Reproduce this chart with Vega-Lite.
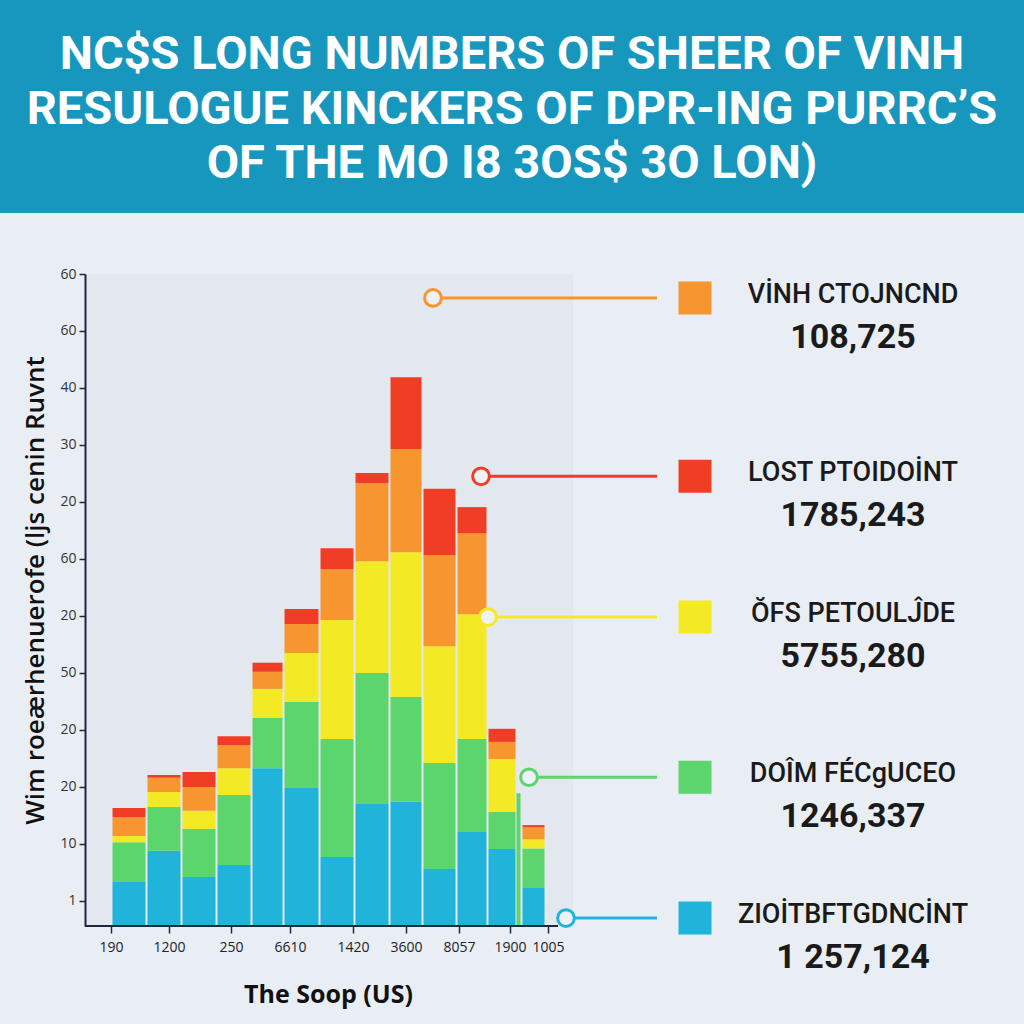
{
  "$schema": "https://vega.github.io/schema/vega-lite/v6.json",
  "autosize": {"type": "none"},
  "width": 939,
  "height": 652,
  "padding": {"left": 85, "top": 274, "right": 0, "bottom": 98},
  "background": "#e9eef5",
  "config": {"view": {"stroke": null}, "axis": {"grid": false}},
  "datasets": {
    "bars": [
      {"lo": 2.7, "hi": 6.0, "series": "ZIOİTBFTGDNCİNT", "layer": 1, "value": 7.7},
      {"lo": 2.7, "hi": 6.0, "series": "DOÎM FÉCgUCEO", "layer": 2, "value": 7.0},
      {"lo": 2.7, "hi": 6.0, "series": "ŎFS PETOULĴDE", "layer": 3, "value": 1.1},
      {"lo": 2.7, "hi": 6.0, "series": "VİNH CTOJNCND", "layer": 4, "value": 3.3},
      {"lo": 2.7, "hi": 6.0, "series": "LOST PTOIDOİNT", "layer": 5, "value": 1.6},
      {"lo": 6.2, "hi": 9.5, "series": "ZIOİTBFTGDNCİNT", "layer": 1, "value": 13.2},
      {"lo": 6.2, "hi": 9.5, "series": "DOÎM FÉCgUCEO", "layer": 2, "value": 7.7},
      {"lo": 6.2, "hi": 9.5, "series": "ŎFS PETOULĴDE", "layer": 3, "value": 2.6},
      {"lo": 6.2, "hi": 9.5, "series": "VİNH CTOJNCND", "layer": 4, "value": 2.5},
      {"lo": 6.2, "hi": 9.5, "series": "LOST PTOIDOİNT", "layer": 5, "value": 0.5},
      {"lo": 9.7, "hi": 13.0, "series": "ZIOİTBFTGDNCİNT", "layer": 1, "value": 8.6},
      {"lo": 9.7, "hi": 13.0, "series": "DOÎM FÉCgUCEO", "layer": 2, "value": 8.4},
      {"lo": 9.7, "hi": 13.0, "series": "ŎFS PETOULĴDE", "layer": 3, "value": 3.2},
      {"lo": 9.7, "hi": 13.0, "series": "VİNH CTOJNCND", "layer": 4, "value": 4.2},
      {"lo": 9.7, "hi": 13.0, "series": "LOST PTOIDOİNT", "layer": 5, "value": 2.6},
      {"lo": 13.2, "hi": 16.5, "series": "ZIOİTBFTGDNCİNT", "layer": 1, "value": 10.7},
      {"lo": 13.2, "hi": 16.5, "series": "DOÎM FÉCgUCEO", "layer": 2, "value": 12.3},
      {"lo": 13.2, "hi": 16.5, "series": "ŎFS PETOULĴDE", "layer": 3, "value": 4.7},
      {"lo": 13.2, "hi": 16.5, "series": "VİNH CTOJNCND", "layer": 4, "value": 4.0},
      {"lo": 13.2, "hi": 16.5, "series": "LOST PTOIDOİNT", "layer": 5, "value": 1.6},
      {"lo": 16.7, "hi": 19.7, "series": "ZIOİTBFTGDNCİNT", "layer": 1, "value": 27.7},
      {"lo": 16.7, "hi": 19.7, "series": "DOÎM FÉCgUCEO", "layer": 2, "value": 8.8},
      {"lo": 16.7, "hi": 19.7, "series": "ŎFS PETOULĴDE", "layer": 3, "value": 5.1},
      {"lo": 16.7, "hi": 19.7, "series": "VİNH CTOJNCND", "layer": 4, "value": 3.0},
      {"lo": 16.7, "hi": 19.7, "series": "LOST PTOIDOİNT", "layer": 5, "value": 1.6},
      {"lo": 19.9, "hi": 23.3, "series": "ZIOİTBFTGDNCİNT", "layer": 1, "value": 24.2},
      {"lo": 19.9, "hi": 23.3, "series": "DOÎM FÉCgUCEO", "layer": 2, "value": 15.1},
      {"lo": 19.9, "hi": 23.3, "series": "ŎFS PETOULĴDE", "layer": 3, "value": 8.6},
      {"lo": 19.9, "hi": 23.3, "series": "VİNH CTOJNCND", "layer": 4, "value": 5.1},
      {"lo": 19.9, "hi": 23.3, "series": "LOST PTOIDOİNT", "layer": 5, "value": 2.6},
      {"lo": 23.5, "hi": 26.8, "series": "ZIOİTBFTGDNCİNT", "layer": 1, "value": 12.1},
      {"lo": 23.5, "hi": 26.8, "series": "DOÎM FÉCgUCEO", "layer": 2, "value": 20.7},
      {"lo": 23.5, "hi": 26.8, "series": "ŎFS PETOULĴDE", "layer": 3, "value": 20.9},
      {"lo": 23.5, "hi": 26.8, "series": "VİNH CTOJNCND", "layer": 4, "value": 8.9},
      {"lo": 23.5, "hi": 26.8, "series": "LOST PTOIDOİNT", "layer": 5, "value": 3.7},
      {"lo": 27.0, "hi": 30.3, "series": "ZIOİTBFTGDNCİNT", "layer": 1, "value": 21.4},
      {"lo": 27.0, "hi": 30.3, "series": "DOÎM FÉCgUCEO", "layer": 2, "value": 23.0},
      {"lo": 27.0, "hi": 30.3, "series": "ŎFS PETOULĴDE", "layer": 3, "value": 19.6},
      {"lo": 27.0, "hi": 30.3, "series": "VİNH CTOJNCND", "layer": 4, "value": 13.7},
      {"lo": 27.0, "hi": 30.3, "series": "LOST PTOIDOİNT", "layer": 5, "value": 1.8},
      {"lo": 30.5, "hi": 33.6, "series": "ZIOİTBFTGDNCİNT", "layer": 1, "value": 21.8},
      {"lo": 30.5, "hi": 33.6, "series": "DOÎM FÉCgUCEO", "layer": 2, "value": 18.4},
      {"lo": 30.5, "hi": 33.6, "series": "ŎFS PETOULĴDE", "layer": 3, "value": 25.4},
      {"lo": 30.5, "hi": 33.6, "series": "VİNH CTOJNCND", "layer": 4, "value": 18.1},
      {"lo": 30.5, "hi": 33.6, "series": "LOST PTOIDOİNT", "layer": 5, "value": 12.6},
      {"lo": 33.8, "hi": 37.0, "series": "ZIOİTBFTGDNCİNT", "layer": 1, "value": 10.0},
      {"lo": 33.8, "hi": 37.0, "series": "DOÎM FÉCgUCEO", "layer": 2, "value": 18.6},
      {"lo": 33.8, "hi": 37.0, "series": "ŎFS PETOULĴDE", "layer": 3, "value": 20.5},
      {"lo": 33.8, "hi": 37.0, "series": "VİNH CTOJNCND", "layer": 4, "value": 16.0},
      {"lo": 33.8, "hi": 37.0, "series": "LOST PTOIDOİNT", "layer": 5, "value": 11.6},
      {"lo": 37.2, "hi": 40.1, "series": "ZIOİTBFTGDNCİNT", "layer": 1, "value": 16.5},
      {"lo": 37.2, "hi": 40.1, "series": "DOÎM FÉCgUCEO", "layer": 2, "value": 16.3},
      {"lo": 37.2, "hi": 40.1, "series": "ŎFS PETOULĴDE", "layer": 3, "value": 21.9},
      {"lo": 37.2, "hi": 40.1, "series": "VİNH CTOJNCND", "layer": 4, "value": 14.2},
      {"lo": 37.2, "hi": 40.1, "series": "LOST PTOIDOİNT", "layer": 5, "value": 4.6},
      {"lo": 40.3, "hi": 43.0, "series": "ZIOİTBFTGDNCİNT", "layer": 1, "value": 13.5},
      {"lo": 40.3, "hi": 43.0, "series": "DOÎM FÉCgUCEO", "layer": 2, "value": 6.5},
      {"lo": 40.3, "hi": 43.0, "series": "ŎFS PETOULĴDE", "layer": 3, "value": 9.3},
      {"lo": 40.3, "hi": 43.0, "series": "VİNH CTOJNCND", "layer": 4, "value": 3.0},
      {"lo": 40.3, "hi": 43.0, "series": "LOST PTOIDOİNT", "layer": 5, "value": 2.3},
      {"lo": 43.1, "hi": 43.5, "series": "DOÎM FÉCgUCEO", "layer": 2, "value": 23.3},
      {"lo": 43.7, "hi": 45.9, "series": "ZIOİTBFTGDNCİNT", "layer": 1, "value": 6.8},
      {"lo": 43.7, "hi": 45.9, "series": "DOÎM FÉCgUCEO", "layer": 2, "value": 6.8},
      {"lo": 43.7, "hi": 45.9, "series": "ŎFS PETOULĴDE", "layer": 3, "value": 1.6},
      {"lo": 43.7, "hi": 45.9, "series": "VİNH CTOJNCND", "layer": 4, "value": 2.1},
      {"lo": 43.7, "hi": 45.9, "series": "LOST PTOIDOİNT", "layer": 5, "value": 0.4}
    ],
    "legend": [
      {"series": "VİNH CTOJNCND", "total": "108,725", "anchor": 34.8, "level": 110.2},
      {"series": "LOST PTOIDOİNT", "total": "1785,243", "anchor": 39.6, "level": 78.9},
      {"series": "ŎFS PETOULĴDE", "total": "5755,280", "anchor": 40.3, "level": 54.2},
      {"series": "DOÎM FÉCgUCEO", "total": "1246,337", "anchor": 44.4, "level": 26.1},
      {"series": "ZIOİTBFTGDNCİNT", "total": "1 257,124", "anchor": 48.1, "level": 1.4}
    ]
  },
  "layer": [
    {
      "data": {"values": [{"part": "banner"}]},
      "mark": {"type": "rect", "color": "#1897be"},
      "encoding": {
        "x": {"datum": -8.5, "scale": {"domain": [0, 93.9], "nice": false, "zero": false}},
        "x2": {"datum": 93.9},
        "y": {"datum": 125.1, "scale": {"domain": [0, 114.4], "nice": false, "zero": false}},
        "y2": {"datum": 163}
      }
    },
    {
      "data": {"values": [{"part": "panel"}]},
      "mark": {"type": "rect", "color": "#e3e8ee"},
      "encoding": {
        "x": {"datum": 0, "scale": {"domain": [0, 93.9], "nice": false, "zero": false}},
        "x2": {"datum": 48.8},
        "y": {"datum": 0, "scale": {"domain": [0, 114.4], "nice": false, "zero": false}},
        "y2": {"datum": 114.4}
      }
    },
    {
      "data": {"name": "bars"},
      "mark": {"type": "bar", "binSpacing": 0},
      "encoding": {
        "x": {
          "field": "lo", "type": "quantitative", "bin": "binned",
          "scale": {"domain": [0, 93.9], "nice": false, "zero": false},
          "axis": {
            "title": "The Soop (US)",
            "values": [2.6, 8.4, 14.6, 20.5, 26.8, 32.1, 37.4, 42.5, 46.3],
            "labelExpr": "['190','1200','250','6610','1420','3600','8057','1900','1005'][indexof([2.6,8.4,14.6,20.5,26.8,32.1,37.4,42.5,46.3], datum.value)]",
            "domain": false,
            "tickColor": "#1c2840", "tickWidth": 1.5, "tickSize": 7,
            "labelFont": "Open Sans", "labelFontSize": 14, "labelColor": "#222222", "labelPadding": 7,
            "labelFlush": false, "labelOverlap": false,
            "titleFont": "Open Sans", "titleFontSize": 25, "titleFontWeight": "bold", "titleColor": "#111111",
            "titleX": 243, "titleY": 76, "titleAlign": "center", "titleBaseline": "alphabetic"
          }
        },
        "x2": {"field": "hi"},
        "y": {
          "field": "value", "type": "quantitative", "stack": "zero",
          "scale": {"domain": [0, 114.4], "nice": false, "zero": false},
          "axis": {
            "title": "Wim roeærhenuerofe (ljs cenin Ruvnt",
            "values": [4.4, 14.4, 24.4, 34.4, 44.4, 54.4, 64.4, 74.4, 84.4, 94.4, 104.4, 114.4],
            "labelExpr": "['1','10','20','20','50','20','60','20','30','40','60','60'][round((datum.value-4.4)/10)]",
            "domainColor": "#1c2840", "domainWidth": 2,
            "tickColor": "#1c2840", "tickWidth": 1.5, "tickSize": 6,
            "labelFont": "Open Sans", "labelFontSize": 14, "labelColor": "#333333", "labelPadding": 3,
            "labelFlush": false, "labelOverlap": false,
            "titleFont": "Open Sans", "titleFontSize": 26, "titleFontWeight": 600, "titleColor": "#111111",
            "titleX": -50, "titleY": 316, "titleAngle": -90, "titleAlign": "center", "titleBaseline": "middle",
            "zindex": 1
          }
        },
        "color": {
          "field": "series", "type": "nominal", "legend": null,
          "scale": {"domain": ["VİNH CTOJNCND", "LOST PTOIDOİNT", "ŎFS PETOULĴDE", "DOÎM FÉCgUCEO", "ZIOİTBFTGDNCİNT"], "range": ["#f7952f", "#ef3e25", "#f3ea25", "#5cd66c", "#21b4da"]}
        },
        "order": {"field": "layer", "type": "quantitative"}
      }
    },
    {
      "data": {"values": [{"part": "x-axis line"}]},
      "mark": {"type": "rule", "color": "#1c2840", "strokeWidth": 2},
      "encoding": {
        "x": {"datum": 0, "scale": {"domain": [0, 93.9], "nice": false, "zero": false}},
        "x2": {"datum": 47.3},
        "y": {"datum": 0, "scale": {"domain": [0, 114.4], "nice": false, "zero": false}}
      }
    },
    {
      "data": {"name": "legend"},
      "mark": {"type": "rule", "strokeWidth": 3},
      "encoding": {
        "x": {"field": "anchor", "type": "quantitative", "scale": {"domain": [0, 93.9], "nice": false, "zero": false}},
        "x2": {"datum": 57.2},
        "y": {"field": "level", "type": "quantitative", "scale": {"domain": [0, 114.4], "nice": false, "zero": false}},
        "color": {
          "field": "series", "type": "nominal", "legend": null,
          "scale": {"domain": ["VİNH CTOJNCND", "LOST PTOIDOİNT", "ŎFS PETOULĴDE", "DOÎM FÉCgUCEO", "ZIOİTBFTGDNCİNT"], "range": ["#f7952f", "#ef3e25", "#f3ea25", "#5cd66c", "#21b4da"]}
        }
      }
    },
    {
      "data": {"name": "legend"},
      "mark": {"type": "point", "shape": "circle", "filled": true, "fill": "#eef2f7", "strokeWidth": 3, "size": 280, "opacity": 1},
      "encoding": {
        "x": {"field": "anchor", "type": "quantitative", "scale": {"domain": [0, 93.9], "nice": false, "zero": false}},
        "y": {"field": "level", "type": "quantitative", "scale": {"domain": [0, 114.4], "nice": false, "zero": false}},
        "stroke": {
          "field": "series", "type": "nominal", "legend": null,
          "scale": {"domain": ["VİNH CTOJNCND", "LOST PTOIDOİNT", "ŎFS PETOULĴDE", "DOÎM FÉCgUCEO", "ZIOİTBFTGDNCİNT"], "range": ["#f7952f", "#ef3e25", "#f3ea25", "#5cd66c", "#21b4da"]}
        }
      }
    },
    {
      "data": {"name": "legend"},
      "mark": {"type": "point", "shape": "square", "filled": true, "size": 1089, "opacity": 1},
      "encoding": {
        "x": {"datum": 61.0, "scale": {"domain": [0, 93.9], "nice": false, "zero": false}},
        "y": {"field": "level", "type": "quantitative", "scale": {"domain": [0, 114.4], "nice": false, "zero": false}},
        "color": {
          "field": "series", "type": "nominal", "legend": null,
          "scale": {"domain": ["VİNH CTOJNCND", "LOST PTOIDOİNT", "ŎFS PETOULĴDE", "DOÎM FÉCgUCEO", "ZIOİTBFTGDNCİNT"], "range": ["#f7952f", "#ef3e25", "#f3ea25", "#5cd66c", "#21b4da"]}
        }
      }
    },
    {
      "data": {"name": "legend"},
      "mark": {"type": "text", "font": "Roboto", "fontSize": 27, "fontWeight": 500, "color": "#1a1a1a", "align": "center", "baseline": "middle", "dy": -3},
      "encoding": {
        "x": {"datum": 76.8, "scale": {"domain": [0, 93.9], "nice": false, "zero": false}},
        "y": {"field": "level", "type": "quantitative", "scale": {"domain": [0, 114.4], "nice": false, "zero": false}},
        "text": {"field": "series", "type": "nominal"}
      }
    },
    {
      "data": {"name": "legend"},
      "mark": {"type": "text", "font": "Roboto", "fontSize": 34, "fontWeight": "bold", "color": "#1a1a1a", "align": "center", "baseline": "middle", "dy": 40},
      "encoding": {
        "x": {"datum": 76.8, "scale": {"domain": [0, 93.9], "nice": false, "zero": false}},
        "y": {"field": "level", "type": "quantitative", "scale": {"domain": [0, 114.4], "nice": false, "zero": false}},
        "text": {"field": "total", "type": "nominal"}
      }
    },
    {
      "data": {"values": [{"heading": ["NC$S LONG NUMBERS OF SHEER OF VINH", "RESULOGUE KINCKERS OF DPR-ING PURRC’S", "OF THE MO I8 3OS$ 3O LON)"]}]},
      "mark": {"type": "text", "font": "Roboto", "fontSize": 47, "fontWeight": "bold", "color": "#ffffff", "lineHeight": 54.5, "align": "center", "baseline": "middle"},
      "encoding": {
        "x": {"datum": 42.7, "scale": {"domain": [0, 93.9], "nice": false, "zero": false}},
        "y": {"datum": 152.8, "scale": {"domain": [0, 114.4], "nice": false, "zero": false}},
        "text": {"field": "heading", "type": "nominal"}
      }
    }
  ]
}
